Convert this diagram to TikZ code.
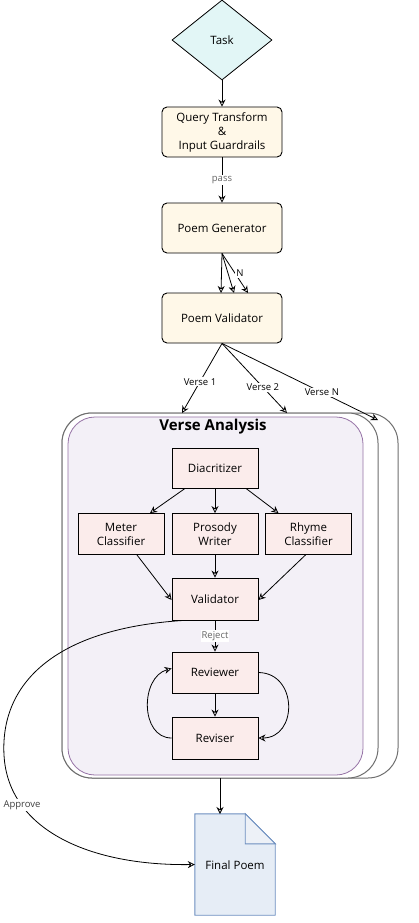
\documentclass[tikz,border=0pt]{standalone}
\usepackage{fontspec}
\setmainfont{Open Sans}
\usetikzlibrary{shapes.geometric,arrows.meta,calc}
\definecolor{cream}{HTML}{FFF8E8}
\definecolor{cyanfill}{HTML}{E2F6F6}
\definecolor{pinkfill}{HTML}{FBECEB}
\definecolor{lavfill}{HTML}{F3F0F7}
\definecolor{purp}{HTML}{9673A6}
\definecolor{bluefill}{HTML}{E6EDF6}
\definecolor{blueline}{HTML}{6C8EBF}
\definecolor{greyline}{HTML}{6E6E6E}
\tikzset{
  topbox/.style={draw=black, line width=0.9pt, rounded corners=5pt, fill=cream,
    minimum width=120pt, minimum height=50pt, align=center, inner sep=0pt,
    font=\fontsize{11.5pt}{14pt}\selectfont},
  inbox/.style={draw=black, line width=0.9pt, fill=pinkfill,
    minimum width=86pt, minimum height=41pt, align=center, inner sep=0pt,
    font=\fontsize{11.5pt}{14pt}\selectfont},
  arr/.style={-{Stealth[open,length=7pt,width=7pt]}, line width=0.8pt},
  lbl/.style={fill=white, inner sep=1pt, font=\fontsize{9.5pt}{10pt}\selectfont},
  glbl/.style={lbl, text=black!60},
}
\begin{document}
\begin{tikzpicture}[x=1pt,y=-1pt]
\useasboundingbox (0,0) rectangle (418,923);

% Task diamond
\node (task) [diamond, draw=black, line width=0.8pt, fill=cyanfill,
  minimum width=100pt, minimum height=80pt, inner sep=0pt, aspect=1.25,
  font=\fontsize{11.5pt}{14pt}\selectfont] at (222,40) {Task};

\node (qt) [topbox] at (222,132) {Query Transform\\\&\\Input Guardrails};
\node (pg) [topbox] at (222,228) {Poem Generator};
\node (pv) [topbox] at (222,318) {Poem Validator};

\draw[arr] (task.south) -- (qt.north);
\draw[arr] (qt.south) -- node[glbl] {pass} (pg.north);

\coordinate (pvt1) at (221,293);
\coordinate (pvt2) at (234,293);
\coordinate (pvt3) at (248,293);
\draw[arr] (pg.south) -- (pvt1);
\draw[arr] (pg.south) -- (pvt2);
\draw[arr] (pg.south) -- node[lbl, pos=0.5, right=0pt] {N} (pvt3);

% container (stacked)
\node (back2) [draw=greyline, line width=1pt, fill=white, rounded corners=30pt,
  minimum width=336pt, minimum height=365pt] at (230,595.5) {};
\node (back1) [draw=greyline, line width=1pt, fill=white, rounded corners=30pt,
  minimum width=316pt, minimum height=365pt] at (220,595.5) {};
\node (va) [draw=purp, line width=0.8pt, fill=lavfill, rounded corners=27pt,
  minimum width=295pt, minimum height=358pt] at (215.5,596) {};
\node (vat) [font=\bfseries\fontsize{15pt}{17pt}\selectfont] at (213,427) {Verse Analysis};

% verse arrows
\coordinate (v1) at (182,413);
\coordinate (v2) at (287,413);
\coordinate (vn) at (378,420);
\draw[arr] (pv.south) -- node[lbl, pos=0.55] {Verse 1} (v1);
\draw[arr] (pv.south) -- node[lbl, pos=0.63] {Verse 2} (v2);
\draw[arr] (pv.south) -- node[lbl, pos=0.64] {Verse N} (vn);

% inner boxes
\node (dia) [inbox, minimum height=40pt] at (215,468) {Diacritizer};
\node (met) [inbox] at (121,534) {Meter\\Classifier};
\node (pro) [inbox] at (215,534) {Prosody\\Writer};
\node (rhy) [inbox] at (308.5,534) {Rhyme\\Classifier};
\node (val) [inbox, minimum height=42pt] at (215,599) {Validator};
\node (rev) [inbox] at (215,672.5) {Reviewer};
\node (rvs) [inbox, minimum height=42pt] at (215,738) {Reviser};

\draw[arr] ([xshift=-30pt]dia.south) -- ([xshift=29pt]met.north);
\draw[arr] (dia.south) -- (pro.north);
\draw[arr] ([xshift=31pt]dia.south) -- ([xshift=-30pt]rhy.north);
\draw[arr] ([xshift=16pt]met.south) -- ([yshift=-1pt]val.west);
\draw[arr] (pro.south) -- (val.north);
\draw[arr] ([xshift=-3pt]rhy.south) -- ([yshift=-1pt]val.east);
\draw[arr] (val.south) -- node[glbl] {Reject} (rev.north);
\draw[arr] (rev.south) -- (rvs.north);
\draw[arr] (rev.east) .. controls (298,673) and (298,738) .. (rvs.east);
\draw[arr] (rvs.west) .. controls (140,738) and (140,677) .. ([yshift=4pt]rev.west);

% Final Poem document
\node (fp) [minimum width=80pt, minimum height=101pt, inner sep=0pt] at (235,864.5) {};
\draw[draw=blueline, line width=0.9pt, fill=bluefill]
  (fp.north west) -- ($(fp.north east)+(-30,0)$) -- ($(fp.north east)+(0,30)$)
  -- (fp.south east) -- (fp.south west) -- cycle;
\draw[draw=blueline, line width=0.9pt, fill=bluefill!70!blueline!30]
  ($(fp.north east)+(-30,0)$) -- ($(fp.north east)+(-30,30)$) -- ($(fp.north east)+(0,30)$) -- cycle;
\node (fpt) [font=\fontsize{11.5pt}{14pt}\selectfont] at (235,865) {Final Poem};

\coordinate (vab) at (220,778);
\coordinate (fptop) at (220,814);
\draw[arr] (vab) -- (fptop);

% Approve curve
\draw[arr] ([xshift=12pt]val.south west) .. controls (60,628) and (0,680) .. (4,755)
  .. controls (8,830) and (90,866) .. (fp.west);
\node (appr) [lbl, text=black!75] at (22,805) {Approve};
\end{tikzpicture}
\end{document}
